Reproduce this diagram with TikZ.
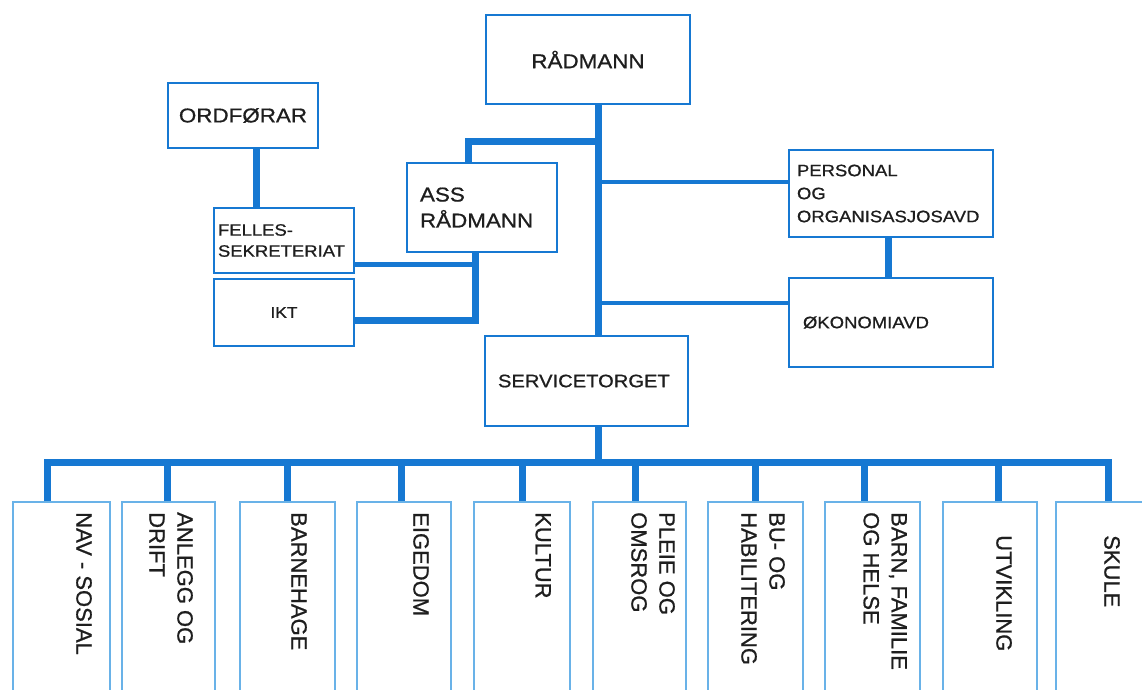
\documentclass[tikz,border=0pt]{standalone}
\usepackage{fontspec}
\setmainfont{Liberation Sans}[FakeBold=0.8]
\newfontfamily\widefont{Liberation Sans}[FakeStretch=1.12, FakeBold=0.8]
\usetikzlibrary{positioning}

\definecolor{orgblue}{RGB}{22,120,210}
\definecolor{paleblue}{RGB}{105,178,232}
\definecolor{inkgrey}{RGB}{30,30,30}

\newcommand{\bigtext}{\widefont\fontsize{20}{26}\selectfont}
\newcommand{\midtext}{\widefont\fontsize{16.5}{21}\selectfont}
\newcommand{\unittext}{\fontsize{22}{28}\selectfont}

\begin{document}
\begin{tikzpicture}[x=1pt, y=-1pt,
  box/.style = {draw=orgblue, line width=2.5pt, fill=white,
    inner sep=0pt, text=inkgrey},
  unit/.style = {draw=paleblue, line width=1.8pt, fill=white,
    inner sep=0pt, minimum height=198pt},
  unitlabel/.style = {rotate=-90, anchor=north west, align=left,
    inner sep=0pt, text=inkgrey, font=\unittext},
  link/.style = {draw=orgblue, line width=7pt},
  thinlink/.style = {draw=orgblue, line width=4pt}]
  \useasboundingbox (0,0) rectangle (1142,690);
  \clip (0,0) rectangle (1142,690);

  % upper part
  \coordinate (spine) at (598,0);
  \node[box, minimum width=204pt, minimum height=89pt, font=\bigtext] (rad) at (588,59.5) {RÅDMANN};
  \node[box, minimum width=150pt, minimum height=65pt, font=\bigtext] (ord) at (243,115.5) {ORDFØRAR};
  \node[box, minimum width=150pt, minimum height=89pt, text width=124pt, align=left, font=\bigtext] (ass) at (482,207.5) {ASS\\RÅDMANN};
  \node[box, minimum width=140pt, minimum height=65pt, text width=132pt, align=left, font=\midtext] (felles) at (284,240.5) {FELLES-\\SEKRETERIAT};
  \node[box, minimum width=140pt, minimum height=67pt, font=\widefont\fontsize{15.5}{19}\selectfont] (ikt) at (284,312.5) {IKT};
  \node[box, minimum width=204pt, minimum height=87pt, text width=188pt, align=left, font=\widefont\fontsize{16.5}{23}\selectfont] (pers) at (891,193.5) {PERSONAL\\OG\\ORGANISASJOSAVD};
  \node[box, minimum width=204pt, minimum height=89pt, text width=176pt, align=left, font=\midtext] (oko) at (891,322.5) {ØKONOMIAVD};
  \node[box, minimum width=203pt, minimum height=90pt, text width=177pt, align=left, font=\widefont\fontsize{18}{22}\selectfont] (serv) at (586.5,381) {SERVICETORGET};

  \draw[link] (spine |- rad.south) -- (spine |- serv.north);
  \draw[link] (spine |- 0,141) -| ([xshift=-14pt]ass.north);
  \draw[link] ([xshift=13pt]ord.south) -- ([xshift=13pt]ord.south |- felles.north);
  \draw[link] ([xshift=-7pt]ass.south) |- (ikt.east |- 0,320);
  \draw[link, line width=5pt] ([xshift=-7pt]ass.south |- 0,264) -- (felles.east |- 0,264);
  \draw[thinlink] (spine |- 0,182) -- (pers.west |- 0,182);
  \draw[thinlink] (spine |- 0,303) -- (oko.west |- 0,303);
  \draw[link] ([xshift=-3pt]pers.south) -- ([xshift=-3pt]oko.north);

  % units
  \node[unit, minimum width=97pt] (nav) at (61.5,601) {};
  \node[unit, minimum width=93pt] (anl) at (168.5,601) {};
  \node[unit, minimum width=95pt] (bhg) at (287.5,601) {};
  \node[unit, minimum width=94pt] (eig) at (404,601) {};
  \node[unit, minimum width=96pt] (kul) at (522,601) {};
  \node[unit, minimum width=93pt] (ple) at (639.5,601) {};
  \node[unit, minimum width=95pt] (bu) at (755.5,601) {};
  \node[unit, minimum width=95pt] (bfh) at (872.5,601) {};
  \node[unit, minimum width=94pt] (utv) at (990,601) {};
  \node[unit, minimum width=94pt] (sku) at (1103,601) {};

  \node[unitlabel] (navtxt) at (92,512) {NAV - SOSIAL};
  \node[unitlabel] (anltxt) at (193,512) {ANLEGG OG\\DRIFT};
  \node[unitlabel] (bhgtxt) at (307,512) {BARNEHAGE};
  \node[unitlabel] (eigtxt) at (429,512) {EIGEDOM};
  \node[unitlabel] (kultxt) at (551,512) {KULTUR};
  \node[unitlabel] (pletxt) at (675,512) {PLEIE OG\\OMSROG};
  \node[unitlabel] (butxt) at (785,512) {BU- OG\\HABILITERING};
  \node[unitlabel] (bfhtxt) at (907,512) {BARN, FAMILIE\\OG HELSE};
  \node[unitlabel] (utvtxt) at (1012,535) {UTVIKLING};
  \node[unitlabel] (skutxt) at (1120,535) {SKULE};

  \coordinate (bus) at (598,462);
  \draw[link] (spine |- serv.south) -- (bus);
  \draw[link] ([xshift=-14.5pt]nav.north) |- (bus) -| ([xshift=5pt]sku.north);
  \draw[link] ([xshift=-1.5pt]anl.north) -- ([xshift=-1.5pt]anl.north |- bus);
  \draw[link] (bhg.north) -- (bhg.north |- bus);
  \draw[link] ([xshift=-3pt]eig.north) -- ([xshift=-3pt]eig.north |- bus);
  \draw[link] (kul.north) -- (kul.north |- bus);
  \draw[link] ([xshift=-4.5pt]ple.north) -- ([xshift=-4.5pt]ple.north |- bus);
  \draw[link] (bu.north) -- (bu.north |- bus);
  \draw[link] ([xshift=-8.5pt]bfh.north) -- ([xshift=-8.5pt]bfh.north |- bus);
  \draw[link] ([xshift=8pt]utv.north) -- ([xshift=8pt]utv.north |- bus);
\end{tikzpicture}
\end{document}
